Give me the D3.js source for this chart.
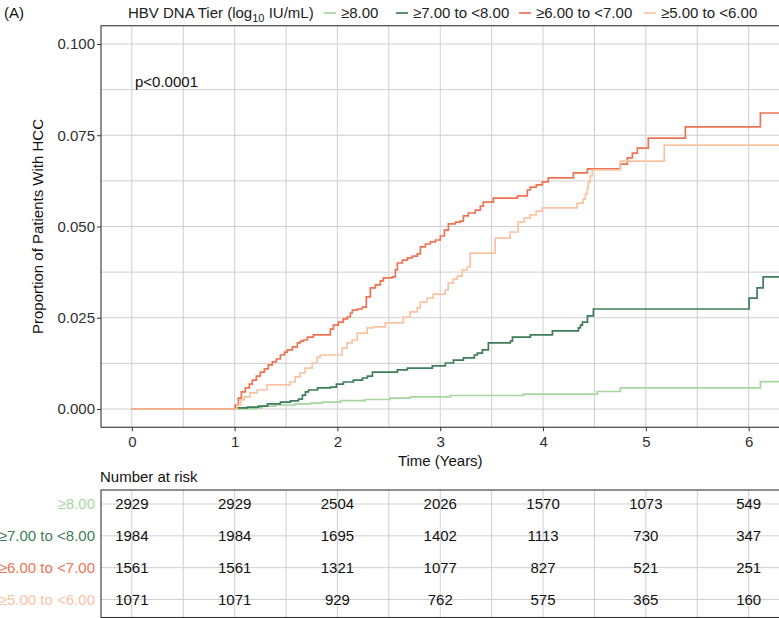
<!DOCTYPE html>
<html><head><meta charset="utf-8">
<script src="https://cdn.jsdelivr.net/npm/d3@7"></script>
<style>body{margin:0;background:#fff} svg{display:block} text{font-family:"Liberation Sans",Arial,sans-serif}</style>
</head><body><svg id="chart" width="779" height="618"></svg>
<script>
// ---------- data ----------
const groups = ["≥8.00", "≥7.00 to <8.00", "≥6.00 to <7.00", "≥5.00 to <6.00"];
const colors = ["#a6d69e", "#3e7d59", "#ee7353", "#fcc3a3"];

// cumulative incidence steps [time (years), proportion]
const curveGe8 = [[0,0],[1.0,0],[1.054,0.0001],[1.219,0.0003],[1.268,0.0008],[1.395,0.0011],[1.59,0.0014],[1.736,0.0016],[1.853,0.0019],[2.028,0.0023],[2.271,0.0026],[2.514,0.003],[2.709,0.0033],[3.098,0.0037],[3.808,0.0041],[4.528,0.0048],[4.752,0.0058],[6.114,0.0075],[6.3,0.0075]];
const curve7to8 = [[0,0],[1.0,0],[1.007,0.0003],[1.124,0.0005],[1.231,0.0008],[1.319,0.0014],[1.445,0.0019],[1.543,0.0022],[1.62,0.0027],[1.659,0.0038],[1.689,0.0047],[1.718,0.0052],[1.806,0.0058],[1.932,0.006],[1.99,0.0068],[2.058,0.0074],[2.155,0.0079],[2.243,0.0085],[2.291,0.009],[2.34,0.0101],[2.583,0.0107],[2.68,0.0112],[2.923,0.0118],[3.05,0.0126],[3.128,0.0134],[3.225,0.014],[3.332,0.0148],[3.361,0.0153],[3.41,0.0162],[3.468,0.0181],[3.682,0.0186],[3.702,0.0197],[3.877,0.0203],[4.091,0.0214],[4.344,0.0222],[4.364,0.023],[4.383,0.0238],[4.432,0.0255],[4.49,0.0274],[6.004,0.0304],[6.082,0.0332],[6.141,0.0362],[6.3,0.0362]];
const curve6to7 = [[0,0],[1.0,0],[1.007,0.0011],[1.036,0.003],[1.065,0.0047],[1.104,0.0058],[1.143,0.0068],[1.172,0.0079],[1.211,0.009],[1.25,0.0101],[1.289,0.011],[1.328,0.0121],[1.367,0.0129],[1.406,0.0137],[1.445,0.0148],[1.484,0.0156],[1.513,0.0162],[1.562,0.017],[1.61,0.0181],[1.639,0.0186],[1.669,0.0189],[1.708,0.0197],[1.766,0.0203],[1.931,0.0219],[1.96,0.023],[2.009,0.0238],[2.057,0.0247],[2.096,0.0252],[2.125,0.0263],[2.145,0.0271],[2.193,0.0274],[2.242,0.0279],[2.281,0.0307],[2.32,0.0332],[2.369,0.034],[2.417,0.0351],[2.447,0.0359],[2.534,0.0362],[2.563,0.0381],[2.583,0.04],[2.631,0.0408],[2.68,0.0414],[2.728,0.0419],[2.777,0.0425],[2.807,0.0444],[2.855,0.0452],[2.904,0.0458],[2.953,0.0463],[3.001,0.0474],[3.04,0.049],[3.079,0.0507],[3.147,0.0512],[3.196,0.0515],[3.225,0.0529],[3.273,0.0537],[3.341,0.0545],[3.39,0.0556],[3.419,0.0567],[3.516,0.0578],[3.75,0.0584],[3.847,0.06],[3.876,0.0608],[3.935,0.0614],[3.993,0.0622],[4.051,0.0633],[4.295,0.0647],[4.431,0.0658],[4.752,0.0671],[4.82,0.0688],[4.869,0.0701],[4.917,0.0715],[5.024,0.0742],[5.384,0.0773],[6.114,0.0811],[6.3,0.0811]];
const curve5to6 = [[0,0],[1.0,0],[1.024,0.0011],[1.063,0.0025],[1.092,0.0033],[1.15,0.0044],[1.218,0.0052],[1.315,0.0066],[1.539,0.0074],[1.588,0.0088],[1.637,0.0099],[1.685,0.0112],[1.754,0.0126],[1.802,0.0142],[1.832,0.0148],[2.046,0.0167],[2.094,0.0181],[2.143,0.0189],[2.192,0.0208],[2.289,0.0222],[2.348,0.0225],[2.465,0.0236],[2.64,0.0252],[2.708,0.0266],[2.776,0.0277],[2.805,0.0293],[2.873,0.0304],[2.931,0.0315],[3.048,0.0326],[3.077,0.0345],[3.126,0.0356],[3.165,0.0364],[3.213,0.0381],[3.262,0.0389],[3.291,0.0427],[3.534,0.0468],[3.68,0.0485],[3.758,0.0512],[3.817,0.0523],[3.875,0.0532],[3.933,0.0542],[3.992,0.0551],[4.332,0.0564],[4.391,0.0575],[4.41,0.0589],[4.43,0.0605],[4.44,0.0622],[4.459,0.0638],[4.479,0.0655],[4.751,0.0679],[5.179,0.0723],[6.3,0.0723]];

const riskTimes = [0, 1, 2, 3, 4, 5, 6];
const riskGe8  = [2929, 2929, 2504, 2026, 1570, 1073, 549];
const risk7to8 = [1984, 1984, 1695, 1402, 1113, 730, 347];
const risk6to7 = [1561, 1561, 1321, 1077, 827, 521, 251];
const risk5to6 = [1071, 1071, 929, 762, 575, 365, 160];

const xTicks = [0, 1, 2, 3, 4, 5, 6];
const yTicks = [0, 0.025, 0.05, 0.075, 0.1];

// ---------- drawing ----------
const curves = [curveGe8, curve7to8, curve6to7, curve5to6];
const risks = [riskGe8, risk7to8, risk6to7, risk5to6];

const svg = d3.select("#chart");
const FS = 15;
const gridCol = "#cfcfcf";
const L = 101, R = 779.5;
const x = d3.scaleLinear().domain([-0.3, 6.3]).range([L, R]);
const y = d3.scaleLinear().domain([-0.005, 0.105]).range([427.25, 25.75]);
const [pBottom, pTop] = y.range();

// grid
const gridX = d3.range(0, 6.01, 0.5);
const gridY = d3.range(0, 0.1001, 0.0125);
const g = svg.append("g");
g.selectAll("line.gx").data(gridX).join("line")
  .attr("x1", d => x(d)).attr("x2", d => x(d)).attr("y1", pTop).attr("y2", pBottom)
  .attr("stroke", gridCol).attr("stroke-width", 1);
g.selectAll("line.gy").data(gridY).join("line")
  .attr("x1", L).attr("x2", R + 2).attr("y1", d => y(d)).attr("y2", d => y(d))
  .attr("stroke", gridCol).attr("stroke-width", 1);

// curves
const line = d3.line().x(d => x(d[0])).y(d => y(d[1])).curve(d3.curveStepAfter);
svg.append("g").selectAll("path").data(curves).join("path")
  .attr("d", line).attr("fill", "none")
  .attr("stroke", (d, i) => colors[i]).attr("stroke-width", 1.7);

// panel border
svg.append("rect").attr("x", L).attr("y", pTop).attr("width", R - L + 5).attr("height", pBottom - pTop)
  .attr("fill", "none").attr("stroke", "#333").attr("stroke-width", 1.1);

// axes
const ya = svg.append("g").attr("transform", `translate(${L},0)`)
  .call(d3.axisLeft(y).tickValues(yTicks).tickFormat(d3.format(".3f")).tickSize(4).tickPadding(2));
const xa = svg.append("g").attr("transform", `translate(0,${pBottom})`)
  .call(d3.axisBottom(x).tickValues(xTicks).tickFormat(d3.format("d")).tickSize(4).tickPadding(5));
[ya, xa].forEach(a => {
  a.select(".domain").remove();
  a.selectAll("line").attr("stroke", "#333");
  a.selectAll("text").attr("font-size", FS).attr("fill", "#303030").attr("font-family", '"Liberation Sans",Arial,sans-serif');
});

// axis titles
svg.append("text").attr("x", (L + R) / 2).attr("y", 466).attr("text-anchor", "middle")
  .attr("font-size", FS).attr("fill", "#111").text("Time (Years)");
svg.append("text").attr("transform", `translate(43,${(pTop + pBottom) / 2}) rotate(-90)`)
  .attr("text-anchor", "middle").attr("font-size", FS).attr("fill", "#111")
  .text("Proportion of Patients With HCC");

// p-value
svg.append("text").attr("x", 135).attr("y", 87).attr("font-size", FS).attr("fill", "#111").text("p<0.0001");

// tag and legend
svg.append("text").attr("x", 4).attr("y", 18).attr("font-size", FS).attr("fill", "#111").text("(A)");
const lt = svg.append("text").attr("x", 128).attr("y", 18).attr("font-size", FS).attr("fill", "#222");
lt.append("tspan").text("HBV DNA Tier (log");
lt.append("tspan").attr("font-size", 11).attr("dy", 4).text("10");
lt.append("tspan").attr("dy", -4).text(" IU/mL)");
const legendKeyX = [324, 396, 519, 644];
const lg = svg.append("g").selectAll("g").data(groups).join("g")
  .attr("transform", (d, i) => `translate(${legendKeyX[i]},13)`);
lg.append("line").attr("x1", 0).attr("x2", 12).attr("y1", 0).attr("y2", 0)
  .attr("stroke", (d, i) => colors[i]).attr("stroke-width", 1.7);
lg.append("text").attr("x", 17).attr("y", 5).attr("font-size", FS).attr("fill", "#222").text(d => d);

// ---------- risk table ----------
const tTop = 490, tBottom = 617.5;
const ry = d3.scalePoint().domain(groups).range([504, 599.5]);
svg.append("text").attr("x", 100).attr("y", 482).attr("font-size", FS).attr("fill", "#111").text("Number at risk");
const tg = svg.append("g");
tg.selectAll("line.v").data(gridX).join("line")
  .attr("x1", d => x(d)).attr("x2", d => x(d)).attr("y1", tTop).attr("y2", tBottom)
  .attr("stroke", gridCol).attr("stroke-width", 1);
tg.selectAll("line.h").data(groups).join("line")
  .attr("x1", L).attr("x2", R + 2).attr("y1", d => ry(d)).attr("y2", d => ry(d))
  .attr("stroke", gridCol).attr("stroke-width", 1);
svg.append("rect").attr("x", L).attr("y", tTop).attr("width", R - L + 5).attr("height", tBottom - tTop)
  .attr("fill", "none").attr("stroke", "#333").attr("stroke-width", 1.1);

groups.forEach((grp, i) => {
  svg.append("text").attr("x", 95).attr("y", ry(grp)).attr("dy", "0.35em").attr("text-anchor", "end")
    .attr("font-size", FS).attr("fill", colors[i]).text(grp);
  svg.append("g").selectAll("text").data(risks[i]).join("text")
    .attr("x", (d, j) => x(riskTimes[j])).attr("y", ry(grp)).attr("dy", "0.35em")
    .attr("text-anchor", "middle").attr("font-size", FS).attr("fill", "#111").text(d => d);
});
</script></body></html>
